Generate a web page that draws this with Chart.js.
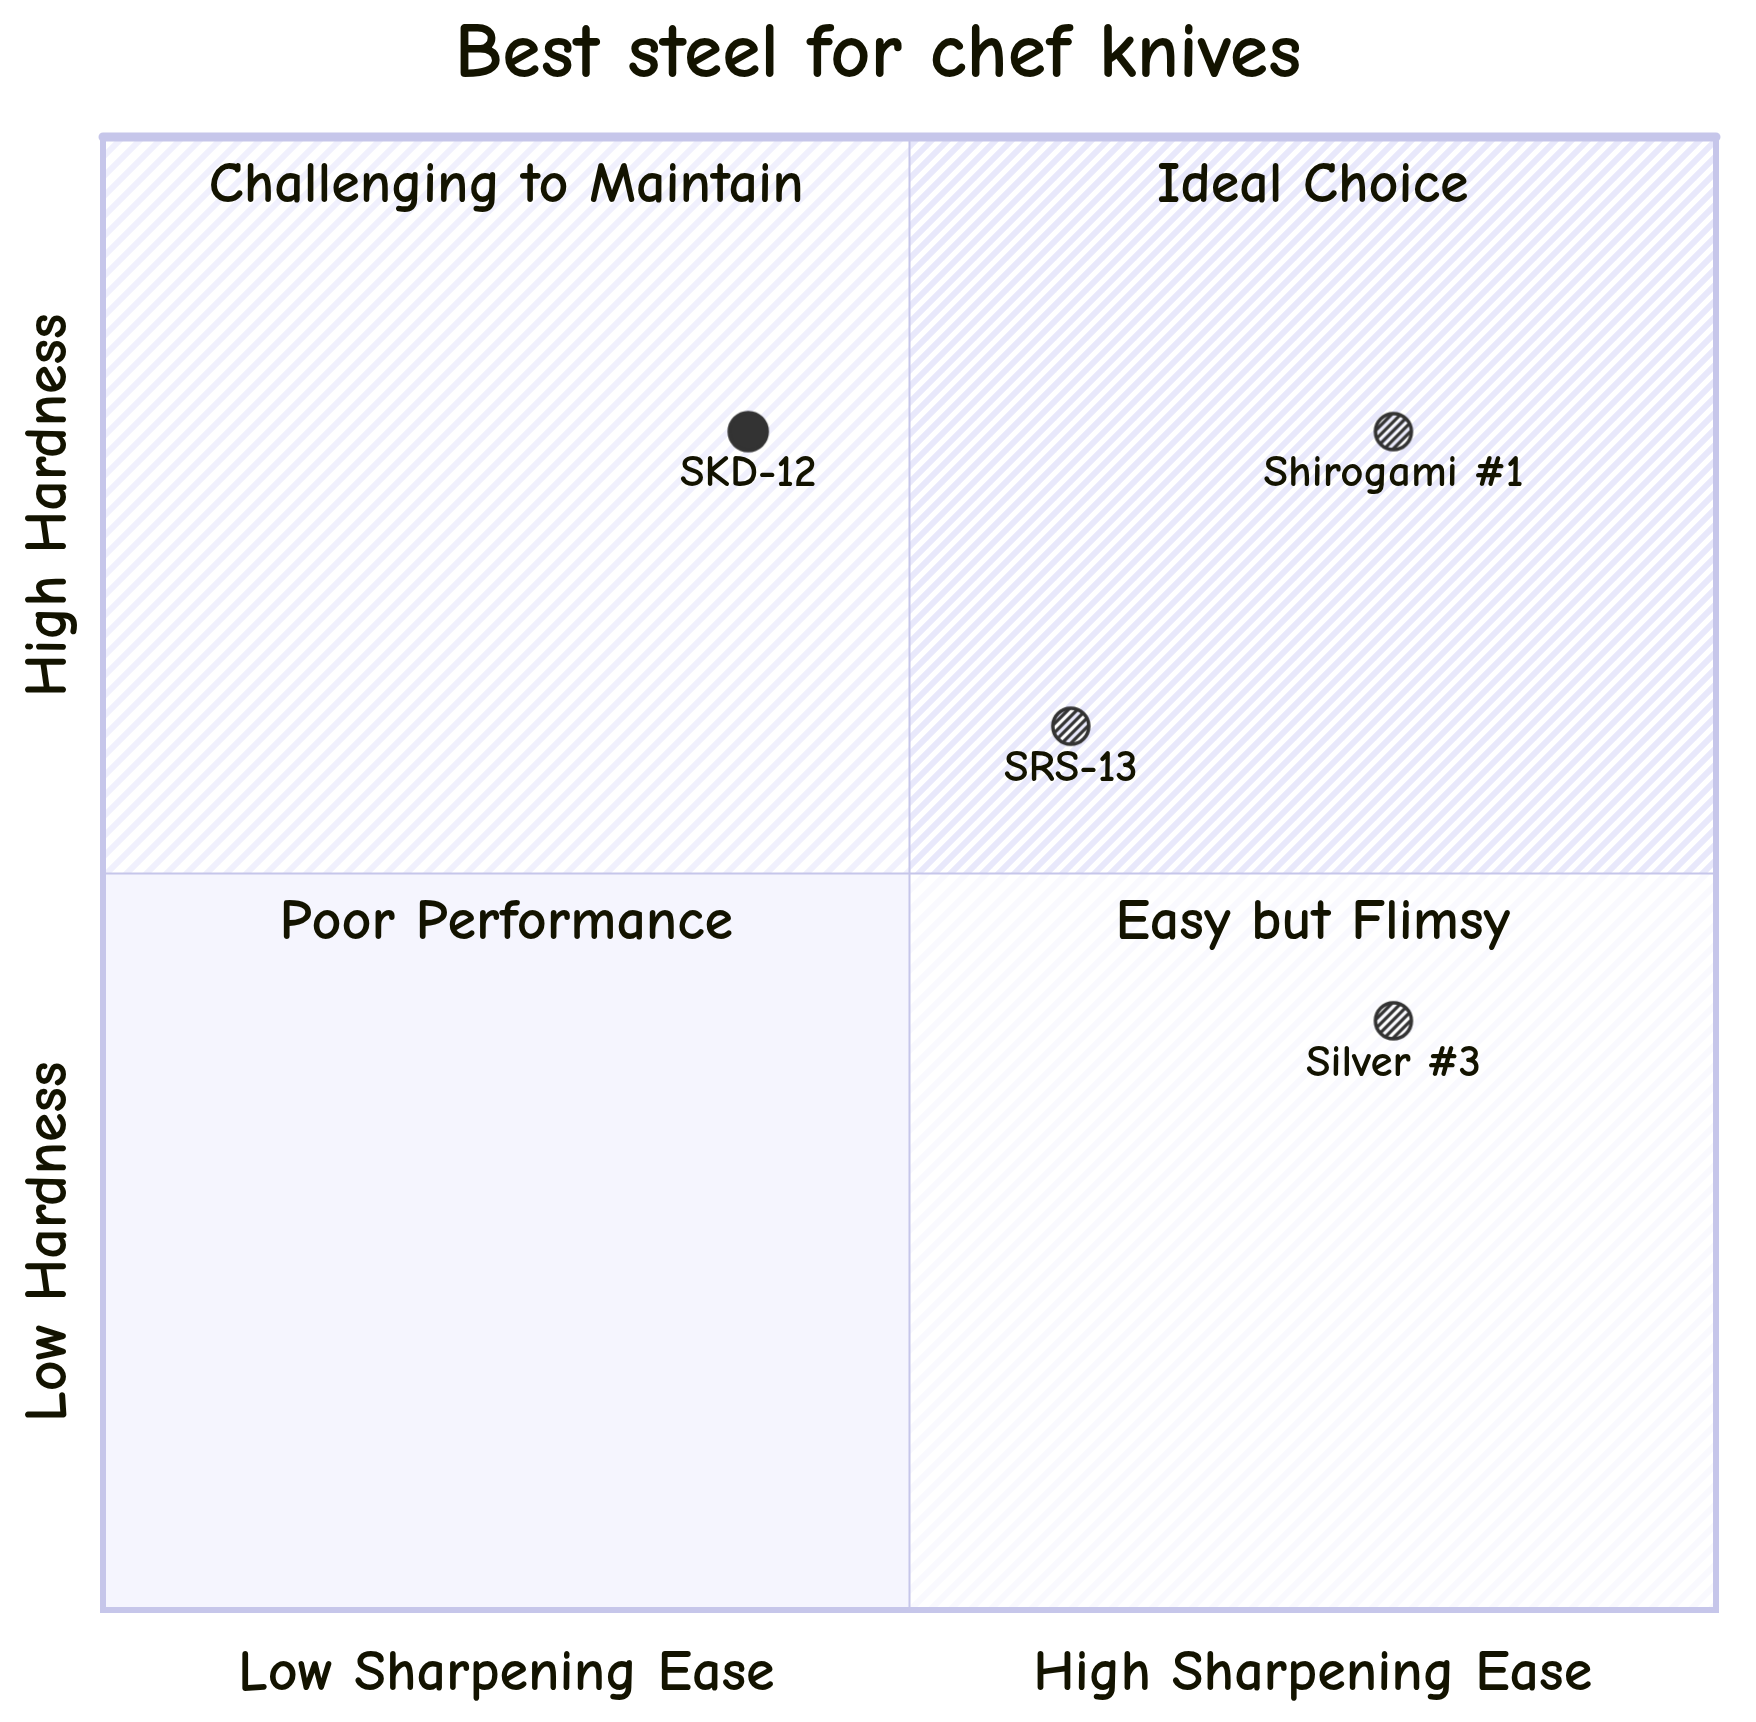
<!DOCTYPE html>
<html>
<head>
<meta charset="utf-8">
<script src="https://cdn.jsdelivr.net/npm/chart.js@4.4.1/dist/chart.umd.min.js"></script>
<style>
  html, body { margin: 0; padding: 0; background: #fff; }
  #wrap { width: 1756px; height: 1722px; }
</style>
</head>
<body>
<div id="wrap"><canvas id="quad" width="1756" height="1722"></canvas></div>
<script>
// chart data
var chartTitle = 'Best steel for chef knives';
var steels = ['SKD-12', 'Shirogami #1', 'SRS-13', 'Silver #3'];
var sharpening = [0.40, 0.80, 0.60, 0.80];
var hardness = [0.80, 0.80, 0.60, 0.40];
var quadrantNames = ['Ideal Choice', 'Challenging to Maintain', 'Poor Performance', 'Easy but Flimsy'];
var xAxisLabels = ['Low Sharpening Ease', 'High Sharpening Ease'];
var yAxisLabels = ['Low Hardness', 'High Hardness'];

var FONT = '"Comic Sans MS", "Comic Neue", Lato, "Noto Sans", sans-serif';
var INK = '#131300';
var FRAME = '#c6c6ea';

function stripes(tile, width, color, bg) {
  var c = document.createElement('canvas');
  c.width = tile; c.height = tile;
  var g = c.getContext('2d');
  if (bg) { g.fillStyle = bg; g.fillRect(0, 0, tile, tile); }
  g.strokeStyle = color;
  g.lineWidth = width;
  for (var k = 0; k <= 2; k++) {
    g.beginPath();
    g.moveTo(-tile, k * tile + tile);
    g.lineTo(k * tile + tile, -tile);
    g.stroke();
  }
  return g.createPattern(c, 'repeat');
}

function marker(filled) {
  var s = 46, r = 19, c = document.createElement('canvas');
  c.width = s; c.height = s;
  var g = c.getContext('2d');
  g.beginPath();
  g.arc(s / 2, s / 2, r, 0, Math.PI * 2);
  if (filled) {
    g.fillStyle = '#333333';
    g.fill();
  } else {
    g.save();
    g.clip();
    g.strokeStyle = '#333333';
    g.lineWidth = 3.2;
    for (var d = -s; d < s * 2; d += 9) {
      g.beginPath(); g.moveTo(d, s); g.lineTo(d + s, 0); g.stroke();
    }
    g.restore();
    g.beginPath();
    g.arc(s / 2, s / 2, r - 1, 0, Math.PI * 2);
  }
  g.strokeStyle = '#333333';
  g.lineWidth = 3.5;
  g.stroke();
  return c;
}

var fills = {
  tr: stripes(16, 6, '#e8e8fb', '#ffffff'),
  tl: stripes(20, 6, '#f0f0fd', '#ffffff'),
  bl: '#f5f5fe',
  br: stripes(20, 6, '#f9f9fe', '#ffffff')
};

var quadrantPlugin = {
  id: 'quadrants',
  beforeDatasetsDraw: function (chart) {
    var ctx = chart.ctx, a = chart.chartArea;
    var xs = chart.scales.x, ys = chart.scales.y;
    var mx = xs.getPixelForValue(0.5), my = ys.getPixelForValue(0.5);
    ctx.save();
    ctx.fillStyle = fills.tl; ctx.fillRect(a.left, a.top, mx - a.left, my - a.top);
    ctx.fillStyle = fills.tr; ctx.fillRect(mx, a.top, a.right - mx, my - a.top);
    ctx.fillStyle = fills.bl; ctx.fillRect(a.left, my, mx - a.left, a.bottom - my);
    ctx.fillStyle = fills.br; ctx.fillRect(mx, my, a.right - mx, a.bottom - my);

    // dividers
    ctx.strokeStyle = FRAME;
    ctx.lineWidth = 2;
    ctx.beginPath();
    ctx.moveTo(mx, a.top); ctx.lineTo(mx, a.bottom);
    ctx.moveTo(a.left, my); ctx.lineTo(a.right, my);
    ctx.stroke();

    // frame
    ctx.lineWidth = 6;
    ctx.lineCap = 'round';
    ctx.strokeRect(a.left, a.top, a.right - a.left, a.bottom - a.top);
    ctx.lineWidth = 9;
    ctx.beginPath(); ctx.moveTo(a.left, a.top); ctx.lineTo(a.right, a.top); ctx.stroke();

    // quadrant names
    ctx.fillStyle = INK;
    ctx.font = 'bold 58px ' + FONT;
    ctx.textAlign = 'center';
    ctx.textBaseline = 'middle';
    var qx = [xs.getPixelForValue(0.75), xs.getPixelForValue(0.25), xs.getPixelForValue(0.25), xs.getPixelForValue(0.75)];
    var qy = [a.top + 49, a.top + 49, my + 49, my + 49];
    for (var i = 0; i < quadrantNames.length; i++) ctx.fillText(quadrantNames[i], qx[i], qy[i]);

    // axis labels
    ctx.font = 'bold 58px ' + FONT;
    ctx.fillText(xAxisLabels[0], xs.getPixelForValue(0.25), a.bottom + 64);
    ctx.fillText(xAxisLabels[1], xs.getPixelForValue(0.75), a.bottom + 64);
    ctx.font = 'bold 60px ' + FONT;
    for (var j = 0; j < yAxisLabels.length; j++) {
      ctx.save();
      ctx.translate(a.left - 54, ys.getPixelForValue(j === 0 ? 0.25 : 0.75));
      ctx.rotate(-Math.PI / 2);
      ctx.fillText(yAxisLabels[j], 0, 0);
      ctx.restore();
    }

    // title
    ctx.font = 'bold 78px ' + FONT;
    ctx.fillText(chartTitle, chart.width / 2, 55);
    ctx.restore();
  },
  afterDatasetsDraw: function (chart) {
    var ctx = chart.ctx, pts = chart.getDatasetMeta(0).data;
    ctx.save();
    ctx.fillStyle = INK;
    ctx.font = 'bold 45px ' + FONT;
    ctx.textAlign = 'center';
    ctx.textBaseline = 'middle';
    pts.forEach(function (p, i) { ctx.fillText(steels[i], p.x, p.y + 42); });
    ctx.restore();
  }
};

var points = steels.map(function (n, i) { return { x: sharpening[i], y: hardness[i] }; });

new Chart(document.getElementById('quad').getContext('2d'), {
  type: 'scatter',
  data: {
    datasets: [{
      label: 'Steels',
      data: points,
      pointStyle: steels.map(function (n, i) { return marker(i === 0); }),
      pointRadius: 20
    }]
  },
  options: {
    responsive: false,
    animation: false,
    layout: { padding: { left: 103, right: 40, top: 137, bottom: 112 } },
    scales: {
      x: { display: false, min: 0, max: 1 },
      y: { display: false, min: 0, max: 1 }
    },
    plugins: { legend: { display: false }, tooltip: { enabled: false }, title: { display: false } }
  },
  plugins: [quadrantPlugin]
});
</script>
</body>
</html>
